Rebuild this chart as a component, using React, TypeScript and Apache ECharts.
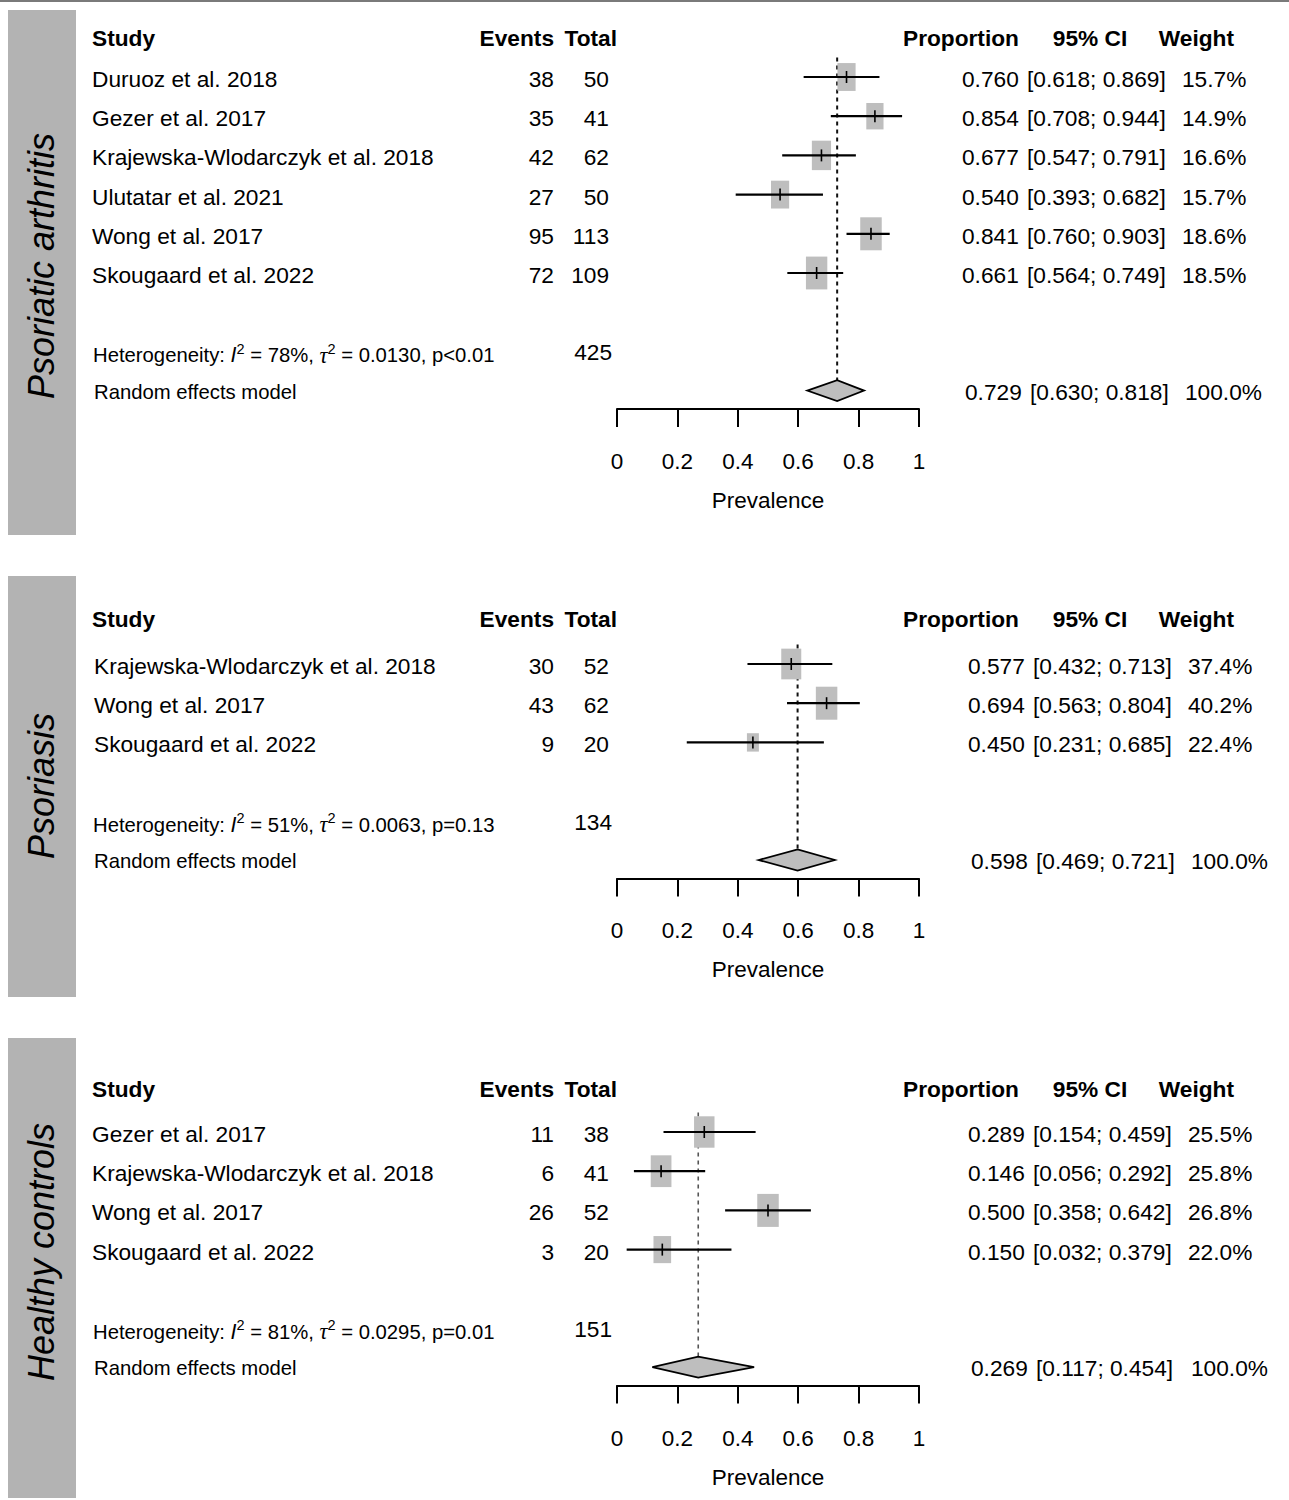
import React, { useEffect, useRef } from "react";
import * as echarts from "echarts";

const FONT = "'Liberation Sans', Arial, Helvetica, sans-serif";

// ---------- Panel 1: Psoriatic arthritis ----------
const paStudies = [
  "Duruoz et al. 2018",
  "Gezer et al. 2017",
  "Krajewska-Wlodarczyk et al. 2018",
  "Ulutatar et al. 2021",
  "Wong et al. 2017",
  "Skougaard et al. 2022",
];
const paEvents = [38, 35, 42, 27, 95, 72];
const paTotal = [50, 41, 62, 50, 113, 109];
const paProp = [0.76, 0.854, 0.677, 0.54, 0.841, 0.661];
const paLower = [0.618, 0.708, 0.547, 0.393, 0.76, 0.564];
const paUpper = [0.869, 0.944, 0.791, 0.682, 0.903, 0.749];
const paWeight = [15.7, 14.9, 16.6, 15.7, 18.6, 18.5];
const paPooled = [0.729, 0.63, 0.818];
const paHet = ["78%", "0.0130", "p<0.01"];
const paSum = 425;

// ---------- Panel 2: Psoriasis ----------
const psStudies = ["Krajewska-Wlodarczyk et al. 2018", "Wong et al. 2017", "Skougaard et al. 2022"];
const psEvents = [30, 43, 9];
const psTotal = [52, 62, 20];
const psProp = [0.577, 0.694, 0.45];
const psLower = [0.432, 0.563, 0.231];
const psUpper = [0.713, 0.804, 0.685];
const psWeight = [37.4, 40.2, 22.4];
const psPooled = [0.598, 0.469, 0.721];
const psHet = ["51%", "0.0063", "p=0.13"];
const psSum = 134;

// ---------- Panel 3: Healthy controls ----------
const hcStudies = ["Gezer et al. 2017", "Krajewska-Wlodarczyk et al. 2018", "Wong et al. 2017", "Skougaard et al. 2022"];
const hcEvents = [11, 6, 26, 3];
const hcTotal = [38, 41, 52, 20];
const hcProp = [0.289, 0.146, 0.5, 0.15];
const hcLower = [0.154, 0.056, 0.358, 0.032];
const hcUpper = [0.459, 0.292, 0.642, 0.379];
const hcWeight = [25.5, 25.8, 26.8, 22.0];
const hcPooled = [0.269, 0.117, 0.454];
const hcHet = ["81%", "0.0295", "p=0.01"];
const hcSum = 151;

const xTicks = [0, 0.2, 0.4, 0.6, 0.8, 1];
const headers = ["Study", "Events", "Total", "Proportion", "95% CI", "Weight"];
const pooledLabel = "Random effects model";
const axisName = "Prevalence";

const panelData = [
  { title: "Psoriatic arthritis", studies: paStudies, events: paEvents, total: paTotal, prop: paProp, lower: paLower, upper: paUpper, weight: paWeight, pooled: paPooled, het: paHet, sum: paSum },
  { title: "Psoriasis", studies: psStudies, events: psEvents, total: psTotal, prop: psProp, lower: psLower, upper: psUpper, weight: psWeight, pooled: psPooled, het: psHet, sum: psSum },
  { title: "Healthy controls", studies: hcStudies, events: hcEvents, total: hcTotal, prop: hcProp, lower: hcLower, upper: hcUpper, weight: hcWeight, pooled: hcPooled, het: hcHet, sum: hcSum },
];

// layout (pixels)
const layout = [
  { bandTop: 10, bandBottom: 535, titleY: 266, headerY: 38, row0: 77, dx: 0, nameX: 92, dashColor: "#111", dashWidth: 2 },
  { bandTop: 576, bandBottom: 997, titleY: 786, headerY: 619, row0: 664, dx: 6, nameX: 94, dashColor: "#111", dashWidth: 2 },
  { bandTop: 1038, bandBottom: 1498, titleY: 1252, headerY: 1089, row0: 1132, dx: 6, nameX: 92, dashColor: "#555", dashWidth: 1.6 },
];
const SPACING = 39.2;
const AXIS_OFF = 2.47; // rows after the study count down to the axis line
const POOLED_OFF = 2; // pooled row index = n + 2
const HET_OFF = 1.1;
const FS = 22.7;
const SMALL_FS = 20.3;
const AXIS_FS = 22.5;
const PLOT_LEFT = 617;
const PLOT_W = 302;
const BOX_FILL = "#bebebe";

function txt(x: number, y: number, text: string, align: string, extra: any = {}) {
  return {
    type: "text",
    x,
    y,
    style: { text, fill: "#000", fontSize: FS, fontFamily: FONT, align, verticalAlign: "middle", ...extra },
  };
}

export default function App() {
  const ref = useRef<HTMLDivElement>(null);
  useEffect(() => {
    if (!ref.current) return;
    const chart = echarts.init(ref.current, null, { renderer: "svg" });

    const grids: any[] = [];
    const xAxes: any[] = [];
    const yAxes: any[] = [];
    const series: any[] = [];
    const graphics: any[] = [];

    graphics.push({
      type: "line",
      shape: { x1: 0, y1: 1, x2: 1289, y2: 1 },
      style: { stroke: "#7a7a7a", lineWidth: 2 },
    });

    panelData.forEach((p, pi) => {
      const L = layout[pi];
      const n = p.studies.length;
      const yMax = n + AXIS_OFF;
      grids.push({ left: PLOT_LEFT, width: PLOT_W, top: L.row0, height: yMax * SPACING, show: false });
      xAxes.push({
        type: "value",
        gridIndex: pi,
        min: 0,
        max: 1,
        interval: 0.2,
        position: "bottom",
        splitLine: { show: false },
        axisLine: { show: true, onZero: false, lineStyle: { color: "#000", width: 2 } },
        axisTick: { show: true, length: 18, lineStyle: { color: "#000", width: 2 } },
        axisLabel: {
          color: "#000",
          fontSize: AXIS_FS,
          fontFamily: FONT,
          margin: 41,
          formatter: (v: number) => String(xTicks.find((t) => Math.abs(t - v) < 1e-9) ?? v),
        },
        name: axisName,
        nameLocation: "middle",
        nameGap: 80,
        nameTextStyle: { color: "#000", fontSize: AXIS_FS, fontFamily: FONT },
      });
      yAxes.push({ type: "value", gridIndex: pi, min: 0, max: yMax, inverse: true, show: false });

      // band + rotated title
      graphics.push({
        type: "rect",
        shape: { x: 8, y: L.bandTop, width: 68, height: L.bandBottom - L.bandTop },
        style: { fill: "#b3b3b3" },
      });
      graphics.push({
        type: "text",
        x: 41,
        y: L.titleY,
        rotation: Math.PI / 2,
        style: {
          text: p.title,
          fill: "#000",
          fontSize: 36,
          fontStyle: "italic",
          fontFamily: FONT,
          align: "center",
          verticalAlign: "middle",
        },
      });
      // header row
      const hb = { fontWeight: "bold" };
      const hy = L.headerY;
      graphics.push(txt(92, hy, headers[0], "left", hb));
      graphics.push(txt(554, hy, headers[1], "right", hb));
      graphics.push(txt(617, hy, headers[2], "right", hb));
      graphics.push(txt(903, hy, headers[3], "left", hb));
      graphics.push(txt(1090, hy, headers[4], "center", hb));
      graphics.push(txt(1234, hy, headers[5], "right", hb));

      const maxW = Math.max(...p.weight);
      const dx = L.dx;

      // pooled: dashed reference line + diamond + texts
      series.push({
        type: "custom",
        xAxisIndex: pi,
        yAxisIndex: pi,
        clip: false,
        silent: true,
        z: 1,
        data: [[p.pooled[0], n + POOLED_OFF, p.pooled[1], p.pooled[2]]],
        encode: { x: 0, y: 1 },
        renderItem: (params: any, api: any) => {
          const est = api.value(0);
          const row = api.value(1);
          const c = api.coord([est, row]);
          const lo = api.coord([api.value(2), row]);
          const hi = api.coord([api.value(3), row]);
          const top = api.coord([est, -0.5]);
          const hetRow = api.coord([0, n + HET_OFF]);
          const h = 10.5;
          const y = c[1];
          const hetText = `Heterogeneity: {i|I}{sup|2} = ${p.het[0]}, {tau|τ}{sup|2} = ${p.het[1]}, ${p.het[2]}`;
          return {
            type: "group",
            children: [
              {
                type: "line",
                shape: { x1: c[0], y1: top[1], x2: c[0], y2: y - h },
                style: { stroke: L.dashColor, lineWidth: L.dashWidth, lineDash: [4, 4] },
              },
              {
                type: "polygon",
                shape: { points: [[lo[0], y], [c[0], y - h], [hi[0], y], [c[0], y + h]] },
                style: { fill: BOX_FILL, stroke: "#000", lineWidth: 1.8 },
              },
              txt(94, y + 1, pooledLabel, "left", { fontSize: SMALL_FS }),
              txt(962 + dx + 3, y + 1, p.pooled[0].toFixed(3), "left"),
              txt(1027 + dx + 3, y + 1, `[${p.pooled[1].toFixed(3)}; ${p.pooled[2].toFixed(3)}]`, "left"),
              txt(1182 + dx + 3, y + 1, "100.0%", "left"),
              txt(612, hetRow[1] - 3, String(p.sum), "right"),
              {
                type: "text",
                x: 93,
                y: hetRow[1],
                style: {
                  text: hetText,
                  fill: "#000",
                  fontSize: SMALL_FS,
                  fontFamily: FONT,
                  align: "left",
                  verticalAlign: "middle",
                  lineHeight: 28,
                  rich: {
                    i: { fontStyle: "italic", fontSize: SMALL_FS + 1, fontFamily: FONT, lineHeight: 28 },
                    tau: { fontStyle: "italic", fontSize: SMALL_FS + 2, fontFamily: "'Liberation Serif', 'DejaVu Serif', serif", lineHeight: 28 },
                    sup: { fontSize: 14.5, fontFamily: FONT, verticalAlign: "top", lineHeight: 16 },
                  },
                },
              },
            ],
          };
        },
      });

      // studies
      const rows = p.studies.map((_, i) => [p.prop[i], i, p.lower[i], p.upper[i], p.weight[i], p.events[i], p.total[i]]);
      series.push({
        type: "custom",
        xAxisIndex: pi,
        yAxisIndex: pi,
        clip: false,
        silent: true,
        z: 2,
        data: rows,
        encode: { x: 0, y: 1 },
        renderItem: (params: any, api: any) => {
          const idx = params.dataIndex;
          const est = api.value(0);
          const row = api.value(1);
          const c = api.coord([est, row]);
          const lo = api.coord([api.value(2), row]);
          const hi = api.coord([api.value(3), row]);
          const r = api.value(4) / maxW;
          const bw = 21.5 * r;
          const bh = 33 * r;
          const y = c[1];
          const ty = y + 2;
          return {
            type: "group",
            children: [
              { type: "rect", shape: { x: c[0] - bw / 2, y: y - bh / 2, width: bw, height: bh }, style: { fill: BOX_FILL } },
              { type: "line", shape: { x1: lo[0], y1: y, x2: hi[0], y2: y }, style: { stroke: "#000", lineWidth: 2.2 } },
              { type: "line", shape: { x1: c[0], y1: y - 6, x2: c[0], y2: y + 6 }, style: { stroke: "#000", lineWidth: 1.6 } },
              txt(L.nameX, ty, p.studies[idx], "left"),
              txt(554, ty, String(api.value(5)), "right"),
              txt(609, ty, String(api.value(6)), "right"),
              txt(962 + dx, ty, p.prop[idx].toFixed(3), "left"),
              txt(1027 + dx, ty, `[${p.lower[idx].toFixed(3)}; ${p.upper[idx].toFixed(3)}]`, "left"),
              txt(1182 + dx, ty, `${p.weight[idx].toFixed(1)}%`, "left"),
            ],
          };
        },
      });
    });

    chart.setOption({
      animation: false,
      textStyle: { fontFamily: FONT },
      grid: grids,
      xAxis: xAxes,
      yAxis: yAxes,
      series,
      graphic: { elements: graphics },
    });
    return () => chart.dispose();
  }, []);

  return (
    <div
      ref={ref}
      style={{ position: "absolute", left: 0, top: 0, width: 1289, height: 1500, background: "#fff" }}
    />
  );
}
